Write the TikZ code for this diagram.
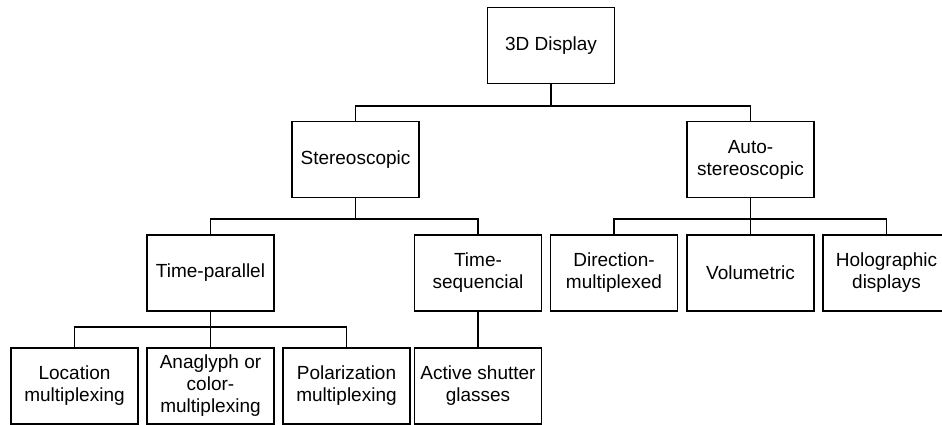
\documentclass[tikz,border=0pt]{standalone}
\usepackage{fontspec}
\setmainfont{Liberation Sans}
\begin{document}
\begin{tikzpicture}[x=1pt,y=-1pt,
  box/.style={draw,line width=1.6pt,rectangle,minimum width=127pt,minimum height=76pt,inner sep=0pt,
    align=center,font=\fontsize{19}{22}\selectfont},
  conn/.style={line width=1.6pt}]
\useasboundingbox (0,0) rectangle (942,424);
\clip (0,0) rectangle (942,424);
\node[box] (top) at (551,45.5) {3D Display};
\node[box] (stereo) at (355.5,159.5) {Stereoscopic};
\node[box] (auto) at (750.5,159.5) {Auto-\\stereoscopic};
\node[box] (tp) at (210.5,273) {Time-parallel};
\node[box] (ts) at (478,273) {Time-\\sequencial};
\node[box] (dm) at (614,273) {Direction-\\multiplexed};
\node[box] (vol) at (750.5,273) {Volumetric};
\node[box] (holo) at (886.5,273) {Holographic\\displays};
\node[box] (loc) at (74.5,386) {Location\\multiplexing};
\node[box] (ana) at (210.5,386) {Anaglyph or\\color-\\multiplexing};
\node[box] (pol) at (346.5,386) {Polarization\\multiplexing};
\node[box] (act) at (478,386) {Active shutter\\glasses};
\coordinate (b1) at (0,106);
\coordinate (b2) at (0,219);
\coordinate (b3) at (0,327);
\draw[conn] (top.south) -- (top.south |- b1);
\draw[conn] (top.south |- b1) -| (stereo.north);
\draw[conn] (top.south |- b1) -| (auto.north);
\draw[conn] (stereo.south) -- (stereo.south |- b2);
\draw[conn] (stereo.south |- b2) -| (tp.north);
\draw[conn] (stereo.south |- b2) -| (ts.north);
\draw[conn] (auto.south) -- (vol.north);
\draw[conn] (auto.south |- b2) -| (dm.north);
\draw[conn] (auto.south |- b2) -| (holo.north);
\draw[conn] (tp.south) -- (ana.north);
\draw[conn] (tp.south |- b3) -| (loc.north);
\draw[conn] (tp.south |- b3) -| (pol.north);
\draw[conn] (ts.south) -- (act.north);
\end{tikzpicture}
\end{document}
